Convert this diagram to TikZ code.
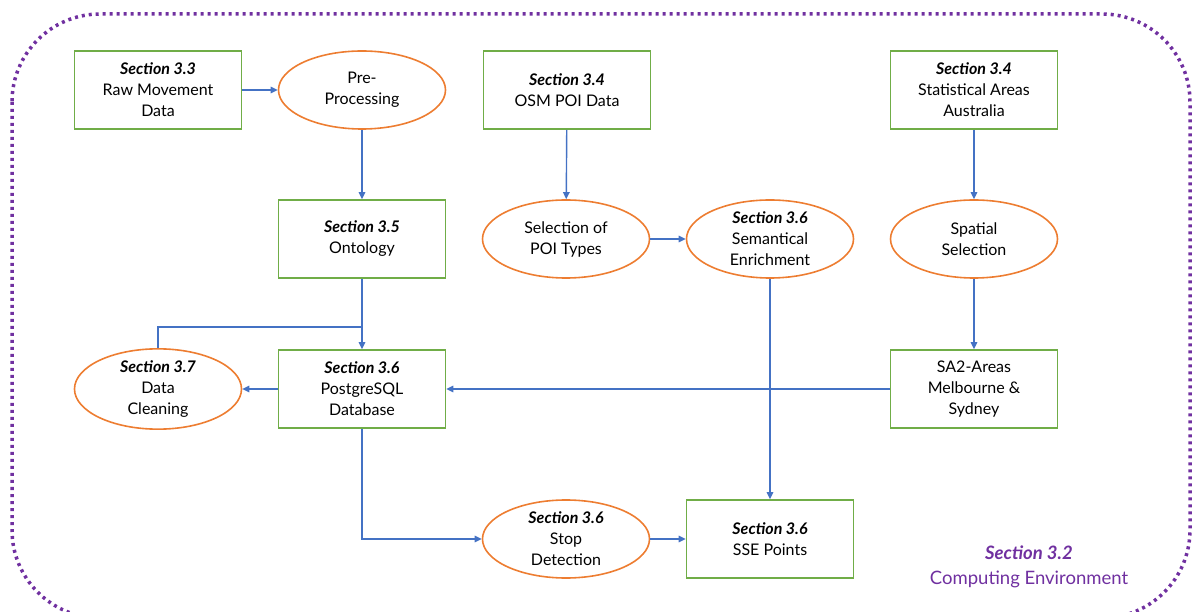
\documentclass[tikz,border=0pt]{standalone}
\usepackage{fontspec}
\setmainfont{Lato}
\usetikzlibrary{shapes.geometric,arrows.meta}
\definecolor{boxgreen}{HTML}{70AD47}
\definecolor{procorange}{HTML}{ED7D31}
\definecolor{flowblue}{HTML}{4472C4}
\definecolor{envpurple}{HTML}{7030A0}
\tikzset{
  txt/.style={font=\fontsize{16}{21}\selectfont, align=center, text=black},
  databox/.style={txt, draw=boxgreen, line width=1.6pt, rectangle,
    minimum width=167pt, minimum height=78pt, inner sep=0pt},
  procell/.style={txt, draw=procorange, line width=1.6pt, ellipse,
    minimum width=167pt, minimum height=78pt, inner sep=0pt},
  flow/.style={draw=flowblue, line width=1.4pt, -{Triangle[length=7pt,width=6.5pt]}},
  link/.style={draw=flowblue, line width=1.4pt},
}
\newcommand{\sect}[1]{\textbf{\textit{#1}}}
\begin{document}
\begin{tikzpicture}[x=1pt,y=-1pt]
\useasboundingbox (0,0) rectangle (1195,612);
% computing environment frame
\draw[envpurple, line width=3.5pt, dash pattern=on 3pt off 4pt, rounded corners=88pt]
  (12,14) rectangle (1190,618);

% data sources and products
\node[databox] (raw)  at (158,90)  {\sect{Section 3.3}\\Raw Movement\\Data};
\node[databox] (osm)  at (567,90)  {\sect{Section 3.4}\\OSM POI Data};
\node[databox] (sa)   at (974,90)  {\sect{Section 3.4}\\Statistical Areas\\Australia};
\node[databox] (onto) at (362,239) {\sect{Section 3.5}\\Ontology};
\node[databox] (db)   at (362,389) {\sect{Section 3.6}\\PostgreSQL\\Database};
\node[databox] (sa2)  at (974,389) {SA2-Areas\\Melbourne \&\\Sydney};
\node[databox] (sse)  at (770,539) {\sect{Section 3.6}\\SSE Points};

% processing steps
\node[procell] (pre)   at (362,90)  {Pre-\\Processing};
\node[procell] (sel)   at (566,239) {Selection of\\POI Types};
\node[procell] (sem)   at (770,239) {\sect{Section 3.6}\\Semantical\\Enrichment};
\node[procell] (spat)  at (974,239) {Spatial\\Selection};
\node[procell] (clean) at (158,389) {\sect{Section 3.7}\\Data\\Cleaning};
\node[procell] (stop)  at (566,539) {\sect{Section 3.6}\\Stop\\Detection};

% flows
\draw[flow] (raw) -- (pre);
\draw[flow] (pre) -- (onto);
\draw[flow] (onto) -- (db);
\coordinate (join) at (362,327);
\draw[link] (clean.north) |- (join);
\draw[flow] (db) -- (clean);
\draw[flow] (sa2) -- (db);
\draw[flow] (osm) -- (sel);
\draw[flow] (sel) -- (sem);
\draw[flow] (sa) -- (spat);
\draw[flow] (spat) -- (sa2);
\draw[flow] (sem) -- (sse);
\draw[flow] (db.south) |- (stop.west);
\draw[flow] (stop) -- (sse);

% environment label
\node[font=\fontsize{18.5}{25}\selectfont, text=envpurple, align=center] (env) at (1029,567)
  {\sect{Section 3.2}\\Computing Environment};
\end{tikzpicture}
\end{document}
